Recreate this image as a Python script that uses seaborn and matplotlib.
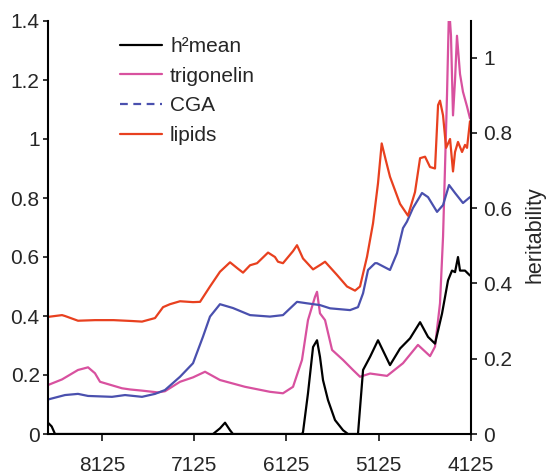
import matplotlib
matplotlib.use("Agg")
import matplotlib.pyplot as plt
from matplotlib.lines import Line2D
from matplotlib.ticker import FuncFormatter
import seaborn as sns

# ---- data (wavenumber, value) ----
lipids_wn = [8710, 8558, 8526, 8385, 8200, 8000, 7800, 7691, 7550, 7463, 7388, 7279, 7138, 7062,
             6954, 6846, 6737, 6650, 6596, 6520, 6444, 6325, 6250, 6217, 6163, 6054, 6011, 5946,
             5837, 5750, 5707, 5577, 5469, 5382, 5328, 5252, 5187, 5133, 5093, 5050, 5003, 4894,
             4808, 4732, 4677, 4623, 4569, 4515, 4482, 4461, 4428, 4395, 4352, 4320, 4298, 4266,
             4222, 4190, 4168, 4136]
lipids_val = [0.397, 0.403, 0.400, 0.384, 0.386, 0.386, 0.383, 0.381, 0.393, 0.430, 0.440, 0.450,
              0.447, 0.448, 0.500, 0.550, 0.582, 0.560, 0.547, 0.572, 0.579, 0.615, 0.600, 0.584,
              0.579, 0.620, 0.640, 0.595, 0.558, 0.575, 0.584, 0.539, 0.500, 0.486, 0.500, 0.601,
              0.714, 0.850, 0.985, 0.930, 0.872, 0.780, 0.740, 0.820, 0.935, 0.940, 0.905, 0.900,
              1.115, 1.130, 1.080, 0.970, 1.000, 0.890, 0.956, 0.990, 0.956, 0.980, 0.970, 1.060]

cga_wn = [8710, 8526, 8385, 8276, 8016, 7875, 7691, 7550, 7442, 7279, 7138, 7030, 6954, 6846,
          6705, 6520, 6304, 6163, 6011, 5902, 5762, 5653, 5436, 5350, 5295, 5241, 5165, 5144,
          5003, 4927, 4862, 4819, 4754, 4656, 4591, 4493, 4428, 4363, 4298, 4212, 4136]
cga_val = [0.117, 0.132, 0.136, 0.129, 0.126, 0.132, 0.126, 0.136, 0.149, 0.194, 0.240, 0.330,
           0.398, 0.440, 0.427, 0.403, 0.398, 0.403, 0.448, 0.443, 0.437, 0.426, 0.420, 0.430,
           0.477, 0.556, 0.579, 0.579, 0.556, 0.613, 0.698, 0.720, 0.766, 0.817, 0.803, 0.753,
           0.776, 0.844, 0.817, 0.783, 0.803]

trig_wn = [8710, 8558, 8385, 8276, 8201, 8146, 8092, 7908, 7821, 7691, 7518, 7442, 7279, 7138,
           7008, 6846, 6575, 6304, 6163, 6054, 5957, 5892, 5816, 5794, 5762, 5707, 5631, 5512,
           5404, 5328, 5219, 5035, 4862, 4700, 4569, 4515, 4461, 4428, 4407, 4385, 4363, 4342,
           4320, 4298, 4277, 4244, 4212, 4168, 4136]
trig_val = [0.166, 0.185, 0.217, 0.226, 0.206, 0.177, 0.172, 0.155, 0.151, 0.147, 0.141, 0.145,
            0.177, 0.192, 0.211, 0.183, 0.160, 0.143, 0.138, 0.160, 0.251, 0.386, 0.465, 0.482,
            0.409, 0.386, 0.285, 0.251, 0.217, 0.194, 0.205, 0.197, 0.240, 0.302, 0.264, 0.296,
            0.443, 0.669, 0.900, 1.150, 1.450, 1.350, 1.080, 1.200, 1.350, 1.220, 1.160, 1.110,
            1.070]

h2_wn = [8710, 8670, 8634, 6921, 6846, 6791, 6737, 6705, 5957, 5946, 5892, 5837, 5794, 5762,
         5729, 5675, 5599, 5512, 5458, 5350, 5295, 5219, 5133, 5003, 4894, 4786, 4677, 4591,
         4515, 4439, 4374, 4331, 4298, 4266, 4244, 4190, 4136]
h2_val = [0.030, 0.020, 0.000, 0.000, 0.015, 0.030, 0.010, 0.000, 0.000, 0.005, 0.108, 0.231,
          0.249, 0.205, 0.143, 0.090, 0.037, 0.010, 0.000, 0.000, 0.170, 0.205, 0.249, 0.183,
          0.227, 0.254, 0.297, 0.258, 0.240, 0.320, 0.408, 0.434, 0.430, 0.470, 0.434, 0.434,
          0.421]

x_ticks = [8125, 7125, 6125, 5125, 4125]
labels = ["h\u00b2mean", "trigonelin", "CGA", "lipids"]

# ---- style ----
sns.set_style("ticks")
plt.rcParams["font.family"] = ["Liberation Sans", "DejaVu Sans"]

C_BLACK = "#000000"
C_PINK = "#d8519f"
C_BLUE = "#4a50ae"
C_RED = "#e8401f"
LW = 1.6
FS = 15

fig = plt.figure(figsize=(5.47, 4.75), dpi=100)
ax = fig.add_axes([48 / 547, 41 / 475, 423 / 547, 413 / 475])
ax2 = ax.twinx()

sns.lineplot(x=trig_wn, y=trig_val, ax=ax, color=C_PINK, lw=LW)
sns.lineplot(x=cga_wn, y=cga_val, ax=ax, color=C_BLUE, lw=LW)
sns.lineplot(x=lipids_wn, y=lipids_val, ax=ax, color=C_RED, lw=LW)
sns.lineplot(x=h2_wn, y=h2_val, ax=ax2, color=C_BLACK, lw=LW)

ax.set_xlim(8710, 4125)
ax.set_ylim(0, 1.4)
ax2.set_ylim(0, 1.097)
ax.set_xticks(x_ticks)
ax.set_yticks([0, 0.2, 0.4, 0.6, 0.8, 1.0, 1.2, 1.4])
ax2.set_yticks([0, 0.2, 0.4, 0.6, 0.8, 1.0])
fmt = FuncFormatter(lambda v, p: f"{v:g}")
ax.yaxis.set_major_formatter(fmt)
ax2.yaxis.set_major_formatter(fmt)

for a in (ax, ax2):
    a.spines["top"].set_visible(False)
    for s in ("left", "right", "bottom"):
        a.spines[s].set_linewidth(1.5)
        a.spines[s].set_color("black")
ax.spines["right"].set_visible(False)
ax2.spines["left"].set_visible(False)
ax2.spines["bottom"].set_visible(False)

ax.tick_params(axis="x", direction="out", length=5, width=1.3, pad=11, labelsize=FS)
ax.tick_params(axis="y", direction="out", length=3.5, width=1.3, pad=2.5, labelsize=FS)
ax2.tick_params(axis="y", direction="out", length=4, width=1.3, pad=5, labelsize=FS)
ax.set_xlabel("")
ax.set_ylabel("")
ax2.set_ylabel("heritability", fontsize=15.5)
ax2.yaxis.set_label_coords((524 - 48) / 423, (434 - 235) / 413)

handles = [
    Line2D([], [], color=C_BLACK, lw=LW),
    Line2D([], [], color=C_PINK, lw=LW),
    Line2D([], [], color=C_BLUE, lw=LW, ls=(0, (3.5, 2.5))),
    Line2D([], [], color=C_RED, lw=LW),
]
ax.legend(handles, labels, loc="upper left", bbox_to_anchor=(120 / 547, 1 - 37 / 475),
          bbox_transform=fig.transFigure, frameon=False, fontsize=FS,
          handlelength=2.0, handletextpad=0.4, labelspacing=0.51, borderaxespad=0,
          borderpad=0)

fig.savefig("out.png", dpi=100, facecolor="white")
